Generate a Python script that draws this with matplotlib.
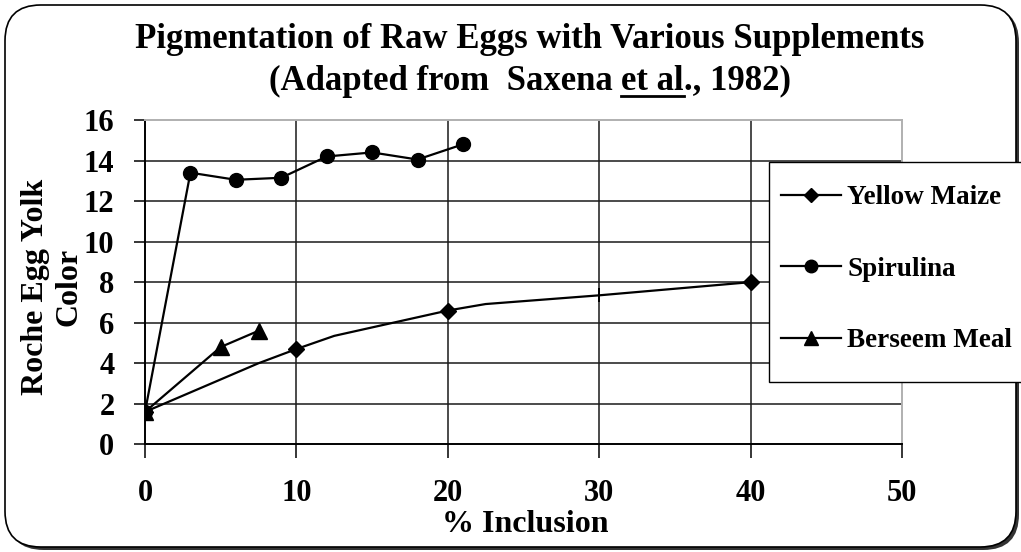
"""
Egg yolk pigmentation with various supplements (after Saxena et al., 1982)
"""

import matplotlib
matplotlib.use("Agg")
import matplotlib.pyplot as plt
from matplotlib import rcParams
from matplotlib.patches import FancyBboxPatch, Rectangle
from matplotlib.lines import Line2D

rcParams["font.family"] = "Liberation Serif"
rcParams["font.weight"] = "bold"

# data
maize_x = [0, 10, 20, 40]
maize_y = [1.6, 4.7, 6.6, 8.0]
# vertices of the (smoothed) maize line as drawn
maize_line_x = [0, 7.5, 10, 12.5, 20, 22.5, 30, 40]
maize_line_y = [1.6, 4.0, 4.7, 5.35, 6.6, 6.92, 7.35, 8.0]
maize_mark_x = [30]
maize_mark_y = [7.35]

spirulina_x = [0, 3, 6, 9, 12, 15, 18, 21]
spirulina_y = [1.6, 13.4, 13.05, 13.15, 14.2, 14.4, 14.05, 14.8]

berseem_x = [0, 5, 7.5]
berseem_y = [1.6, 4.8, 5.6]

x_ticks = [0, 10, 20, 30, 40, 50]
y_ticks = [0, 2, 4, 6, 8, 10, 12, 14, 16]

W, H = 1021, 552
fig = plt.figure(figsize=(W / 100, H / 100), dpi=100)

# rounded outer frame with a little shadow
shadow = FancyBboxPatch((8 / W, 2 / H), 1011 / W, 543 / H,
                        boxstyle="round,pad=0,rounding_size=0.035",
                        transform=fig.transFigure, facecolor="#333333",
                        edgecolor="none", mutation_aspect=W / H, zorder=0)
frame = FancyBboxPatch((5 / W, 5 / H), 1011 / W, 542 / H,
                       boxstyle="round,pad=0,rounding_size=0.035",
                       transform=fig.transFigure, facecolor="white",
                       edgecolor="black", linewidth=1.2,
                       mutation_aspect=W / H, zorder=1)
fig.patches.extend([shadow, frame])

ax = fig.add_axes([145 / W, 1 - 444.3 / H, (902 - 145) / W, (444.3 - 120) / H])
ax.set_facecolor("none")
ax.set_zorder(2)

for v in y_ticks[1:-1]:
    ax.axhline(v, color="#1a1a1a", lw=1.1, zorder=1)
for v in x_ticks[1:-1]:
    ax.axvline(v, color="#1a1a1a", lw=1.1, zorder=1)

ax.plot(maize_line_x, maize_line_y, color="black", lw=1.6, zorder=3)
ax.plot(maize_x, maize_y, ls="none", marker="D", ms=8.5, color="black", zorder=4)
ax.plot(maize_mark_x, maize_mark_y, ls="none", marker="|", ms=10, mew=1.4,
        color="black", zorder=4)
ax.plot(spirulina_x, spirulina_y, color="black", lw=1.6, marker="o", ms=10,
        zorder=4)
ax.plot(berseem_x, berseem_y, color="black", lw=1.6, marker="^", ms=11,
        zorder=4)

ax.set_xlim(0, 50)
ax.set_ylim(0, 16)
ax.set_xticks(x_ticks)
ax.set_yticks(y_ticks)
ax.tick_params(axis="both", labelsize=22, width=1.1, direction="out")
ax.tick_params(axis="y", length=8, pad=14)
ax.tick_params(axis="x", length=10, pad=15)
for lab in ax.get_xticklabels() + ax.get_yticklabels():
    lab.set_fontweight("bold")

ax.spines["left"].set_linewidth(1.4)
ax.spines["bottom"].set_linewidth(1.4)
ax.spines["top"].set_color("#b0b0b0")
ax.spines["right"].set_color("#b0b0b0")
ax.spines["top"].set_linewidth(1.4)
ax.spines["right"].set_linewidth(1.4)
for s in ax.spines.values():
    s.set_zorder(5)

fig.text(525 / W, 1 - 524 / H, "% Inclusion", ha="center", va="center",
         fontsize=23, fontweight="bold")
fig.text(52 / W, 1 - 287 / H, "Roche Egg Yolk\nColor", rotation=90,
         ha="center", va="center", fontsize=23, fontweight="bold",
         linespacing=1.2)

fig.text(530 / W, 1 - 39 / H, "Pigmentation of Raw Eggs with Various Supplements",
         ha="center", va="center", fontsize=25, fontweight="bold")

# subtitle in three pieces so "et al" can be underlined
sub_parts = ["(Adapted from  Saxena ", "et al", "., 1982)"]
renderer = fig.canvas.get_renderer()
widths = []
for part in sub_parts:
    t = fig.text(0, 0, part.replace(" ", "\u00a0"), fontsize=25, fontweight="bold")
    widths.append(t.get_window_extent(renderer).width)
    t.remove()
x0 = 530 - sum(widths) / 2
for part, w in zip(sub_parts, widths):
    fig.text(x0 / W, 1 - 81 / H, part.replace(" ", "\u00a0"), ha="left",
             va="center", fontsize=25, fontweight="bold")
    if part == "et al":
        fig.add_artist(Line2D([x0 / W, (x0 + w) / W], [1 - 96 / H, 1 - 96 / H],
                              transform=fig.transFigure, color="black", lw=2))
    x0 += w

# legend: frame drawn by hand, running off the right edge as in the original
fig.patches.append(Rectangle((769 / W, 1 - 382 / H), 300 / W, 220 / H,
                             transform=fig.transFigure, facecolor="white",
                             edgecolor="black", linewidth=1.0, zorder=6))
handles = [
    Line2D([], [], color="black", lw=1.6, marker="D", ms=7),
    Line2D([], [], color="black", lw=1.6, marker="o", ms=9),
    Line2D([], [], color="black", lw=1.6, marker="^", ms=10),
]
leg = fig.legend(handles, ["Yellow Maize", "Spirulina", "Berseem Meal"],
                 loc="upper left", bbox_to_anchor=(781 / W, 1 - 185 / H),
                 bbox_transform=fig.transFigure, prop={"size": 19.5, "weight": "bold"},
                 frameon=False, handlelength=2.2, handletextpad=0.25,
                 labelspacing=1.72, borderpad=0, borderaxespad=0)
leg.set_zorder(7)

plt.savefig("out.png", dpi=100)
